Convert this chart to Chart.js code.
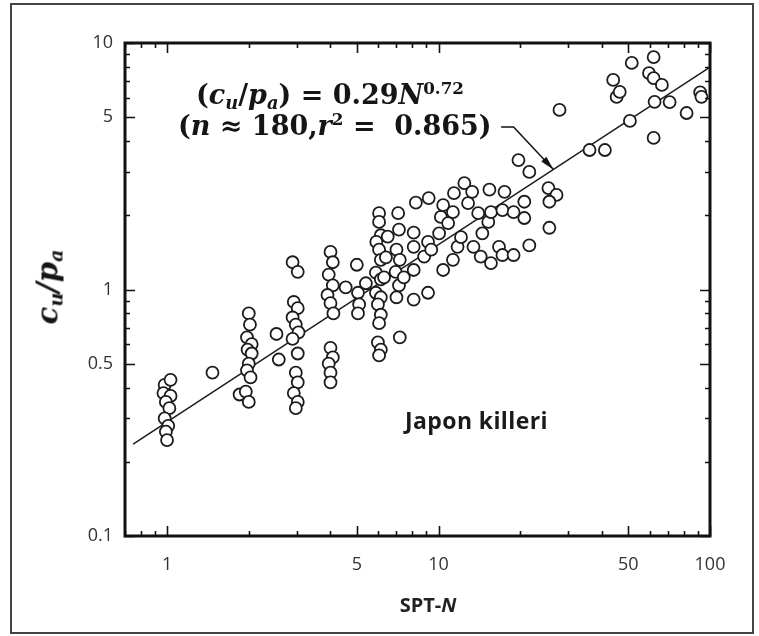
<!DOCTYPE html>
<html>
<head>
<meta charset="utf-8">
<script src="https://cdn.jsdelivr.net/npm/chart.js@4.4.1/dist/chart.umd.min.js"></script>
<style>
  html, body { margin: 0; padding: 0; background: #fff; }
  #wrap { position: relative; width: 759px; height: 636px; overflow: hidden; }
  #frame { position: absolute; left: 10px; top: 3px; width: 744px; height: 631px;
           border: 2px solid #444; box-sizing: border-box; pointer-events: none; }
  #chart { position: absolute; left: 0; top: 0; }
  .math { position: absolute; font-family: "DejaVu Serif", serif; font-weight: bold;
          color: #151515; white-space: nowrap; line-height: 1; }
  .math sub { font-size: 66%; vertical-align: -0.28em; line-height: 0; }
  .math sup { font-size: 62%; vertical-align: 0.6em; line-height: 0; }
  #eq1 { left: 196px; top: 81px; font-size: 27px; }
  #eq2 { left: 178px; top: 112px; font-size: 27px; }
  #ytitle { left: 48px; top: 287px; font-size: 29px; font-style: italic;
            transform: translate(-50%, -50%) rotate(-90deg); }
  #xtitle { position: absolute; left: 428px; top: 604px; transform: translate(-50%, -50%);
            font-family: "Open Sans", sans-serif; font-weight: 700; font-size: 20px; color: #222; }
  #note { position: absolute; left: 405px; top: 420px; transform: translateY(-50%);
          font-family: "Open Sans", sans-serif; font-weight: 700; font-size: 23px;
          letter-spacing: 0.4px; color: #1a1a1a; }
</style>
</head>
<body>
<div id="wrap">
  <canvas id="chart" width="759" height="636"></canvas>
  <div class="math" id="eq1">(<i>c</i><sub><i>u</i></sub>/<i>p</i><sub><i>a</i></sub>) = 0.29<i>N</i><sup>0.72</sup></div>
  <div class="math" id="eq2">(<i>n</i> ≈ 180,<i>r</i><sup>2</sup> =&nbsp; 0.865)</div>
  <div class="math" id="ytitle">c<sub>u</sub>/p<sub>a</sub></div>
  <div id="xtitle">SPT-<i>N</i></div>
  <div id="note">Japon killeri</div>
  <div id="frame"></div>
</div>
<script>
// SPT blow count N and normalised undrained strength cu/pa
const sptN = [
  0.98, 1.03, 0.97, 1.03, 0.99, 1.02, 0.98, 1.01, 0.99, 1.0,
  1.47, 1.85, 1.95,
  2.0, 2.02, 1.97, 2.05, 1.98, 2.05, 2.0, 1.97, 2.03, 2.0,
  2.53, 2.58,
  2.9, 3.03, 2.93, 3.03, 2.9, 2.98, 3.05, 2.9, 3.03, 2.98, 3.03, 2.93, 3.03, 2.98,
  4.0, 4.08, 3.94, 4.08, 3.9, 4.0, 4.1, 4.0, 4.08, 3.94, 4.0, 4.0,
  4.55, 5.0, 5.05, 5.1, 5.05, 5.4,
  6.04, 6.04, 6.13, 5.9, 6.04, 6.13, 5.88, 6.13, 5.88, 6.13, 5.98, 6.13, 6.04, 5.98, 6.13, 6.04,
  7.1, 7.15, 6.5, 7.0, 7.2, 6.95, 7.15, 7.0, 7.2, 6.4, 6.3, 8.1, 8.1, 8.1, 8.1, 8.25, 7.45,
  8.85, 9.15, 9.2, 9.15, 9.4, 10.05, 10.2, 10.4, 10.4, 10.85, 11.3, 11.3, 11.4, 11.75,
  12.1, 12.45, 12.85, 13.3, 13.45, 14.0, 14.3, 14.5, 15.25, 15.4, 15.6, 15.6, 16.7,
  17.2, 17.2, 17.5, 18.9, 18.9, 19.7, 20.7, 20.7, 21.6, 21.6, 25.4, 27.2, 25.6, 25.6, 27.9,
  62, 51.5, 44, 59.6, 62, 66.5, 45.3, 46.5, 62.5, 71, 82, 92, 93, 50.7, 62, 36, 41
];
const cuPa = [
  0.41, 0.43, 0.38, 0.37, 0.35, 0.33, 0.30, 0.28, 0.265, 0.245,
  0.46, 0.375, 0.385,
  0.80, 0.72, 0.64, 0.60, 0.57, 0.55, 0.50, 0.47, 0.44, 0.35,
  0.66, 0.52,
  1.29, 1.18, 0.89, 0.84, 0.77, 0.72, 0.67, 0.63, 0.55, 0.46, 0.42, 0.38, 0.35, 0.33,
  1.42, 1.29, 1.15, 1.04, 0.95, 0.88, 0.80, 0.58, 0.53, 0.50, 0.46, 0.42,
  1.02, 1.26, 0.97, 0.87, 0.80, 1.06,
  2.04, 1.88, 1.66, 1.56, 1.45, 1.32, 1.17, 1.10, 0.97, 0.93, 0.87, 0.79, 0.73, 0.61, 0.57, 0.54,
  2.04, 1.75, 1.64, 1.45, 1.32, 1.18, 1.04, 0.93, 0.64, 1.35, 1.12, 1.70, 1.49, 1.20, 0.91, 2.25, 1.12,
  1.36, 1.56, 2.35, 0.97, 1.45, 1.69, 1.97, 2.2, 1.2, 1.86, 2.06, 1.32, 2.46, 1.49,
  1.63, 2.7, 2.24, 2.49, 1.49, 2.04, 1.36, 1.69, 1.88, 2.54, 2.06, 1.28, 1.49,
  2.1, 1.38, 2.49, 2.06, 1.38, 3.35, 2.27, 1.95, 3.0, 1.51, 2.58, 2.42, 2.27, 1.78, 5.35,
  8.77, 8.3, 7.08, 7.55, 7.2, 6.76, 6.04, 6.33, 5.77, 5.76, 5.2, 6.3, 6.05, 4.83, 4.12, 3.68, 3.68
];

// fitted line (cu/pa) = 0.29 N^0.72, end points as drawn
const fitN = [0.75, 100];
const fitV = [0.236, 7.98];

// leader arrow from the equation to the fitted line
const arrowN = [17.0, 18.9, 26.5];
const arrowV = [4.56, 4.56, 3.07];

const xTickVals = [1, 5, 10, 50, 100];
const yTickVals = [0.1, 0.5, 1, 5, 10];

// all 1..9 x 10^k positions for the small inward tick marks
function decadeTicks(lo, hi) {
  const out = [];
  for (let p = Math.floor(Math.log10(lo)); p <= Math.ceil(Math.log10(hi)); p++) {
    for (let m = 1; m <= 9; m++) {
      const v = +(m * Math.pow(10, p)).toPrecision(3);
      if (v >= lo - 1e-9 && v <= hi + 1e-9) out.push(v);
    }
  }
  return out;
}

const frameAndTicks = {
  id: 'frameAndTicks',
  afterDraw(chart) {
    const { ctx, chartArea: a, scales: { x, y } } = chart;
    ctx.save();
    ctx.strokeStyle = '#111';
    ctx.lineWidth = 1.6;
    ctx.beginPath();
    decadeTicks(0.7, 100).forEach(v => {
      const px = Math.round(x.getPixelForValue(v)) + 0.5;
      const len = xTickVals.includes(v) ? 10 : 5;
      ctx.moveTo(px, a.bottom); ctx.lineTo(px, a.bottom - len);
      ctx.moveTo(px, a.top); ctx.lineTo(px, a.top + len);
    });
    decadeTicks(0.1, 10).forEach(v => {
      const py = Math.round(y.getPixelForValue(v)) + 0.5;
      const len = yTickVals.includes(v) ? 10 : 5;
      ctx.moveTo(a.left, py); ctx.lineTo(a.left + len, py);
      ctx.moveTo(a.right, py); ctx.lineTo(a.right - len, py);
    });
    ctx.stroke();

    // leader arrow
    const pts = arrowN.map((n, i) => [x.getPixelForValue(n), y.getPixelForValue(arrowV[i])]);
    ctx.lineWidth = 1.5;
    ctx.beginPath();
    ctx.moveTo(pts[0][0], pts[0][1]);
    for (let i = 1; i < pts.length; i++) ctx.lineTo(pts[i][0], pts[i][1]);
    ctx.stroke();
    const [x1, y1] = pts[pts.length - 2];
    const [x2, y2] = pts[pts.length - 1];
    const ang = Math.atan2(y2 - y1, x2 - x1);
    ctx.fillStyle = '#111';
    ctx.beginPath();
    ctx.moveTo(x2, y2);
    ctx.lineTo(x2 - 14 * Math.cos(ang) + 3.5 * Math.sin(ang), y2 - 14 * Math.sin(ang) - 3.5 * Math.cos(ang));
    ctx.lineTo(x2 - 14 * Math.cos(ang) - 3.5 * Math.sin(ang), y2 - 14 * Math.sin(ang) + 3.5 * Math.cos(ang));
    ctx.closePath();
    ctx.fill();

    // plot box
    ctx.lineWidth = 3;
    ctx.strokeRect(a.left, a.top, a.right - a.left, a.bottom - a.top);
    ctx.restore();
  }
};

const tickFont = { family: "'Open Sans', sans-serif", size: 18 };

new Chart(document.getElementById('chart'), {
  type: 'scatter',
  data: {
    datasets: [
      {
        label: 'data',
        data: sptN.map((n, i) => ({ x: n, y: cuPa[i] })),
        pointStyle: 'circle',
        pointRadius: 6,
        pointBorderWidth: 1.8,
        pointBorderColor: '#1c1c1c',
        pointBackgroundColor: '#fff',
        order: 1
      },
      {
        label: 'fit',
        type: 'line',
        data: fitN.map((n, i) => ({ x: n, y: fitV[i] })),
        borderColor: '#1c1c1c',
        borderWidth: 1.5,
        pointRadius: 0,
        fill: false,
        order: 2
      }
    ]
  },
  options: {
    responsive: false,
    animation: false,
    devicePixelRatio: 1,
    layout: { padding: { left: 65, right: 49, top: 43, bottom: 50 } },
    plugins: { legend: { display: false }, tooltip: { enabled: false } },
    scales: {
      x: {
        type: 'logarithmic',
        min: 0.7,
        max: 100,
        grid: { display: false, drawTicks: false },
        border: { display: false },
        afterBuildTicks: s => { s.ticks = xTickVals.map(v => ({ value: v })); },
        afterFit: s => { s.height = 50; },
        ticks: {
          autoSkip: false, maxRotation: 0, padding: 18,
          color: '#333', font: tickFont,
          callback: v => String(v)
        }
      },
      y: {
        type: 'logarithmic',
        min: 0.1,
        max: 10,
        grid: { display: false, drawTicks: false },
        border: { display: false },
        afterBuildTicks: s => { s.ticks = yTickVals.map(v => ({ value: v })); },
        afterFit: s => { s.width = 60; },
        ticks: {
          autoSkip: false, padding: 12,
          color: '#333', font: tickFont,
          callback: v => String(v)
        }
      }
    }
  },
  plugins: [frameAndTicks]
});
</script>
</body>
</html>
